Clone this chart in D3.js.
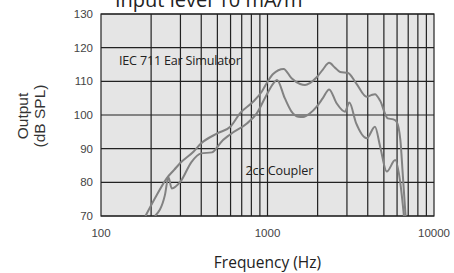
<!DOCTYPE html>
<html>
<head>
<meta charset="utf-8">
<script src="https://cdn.jsdelivr.net/npm/d3@7"></script>
<style>
  body { margin: 0; background: #fff; }
  svg { display: block; }
</style>
</head>
<body>
<svg id="chart"></svg>
<script>
// IEC 711 Ear Simulator curve
const iecFreq = [185, 215, 248, 275, 300, 359, 400, 502, 600, 683, 822, 923, 1000, 1080, 1250, 1395, 1570, 1680, 1800, 1975, 2150, 2345, 2550, 2730, 3050, 3410, 3943, 4200, 4420, 4750, 5270, 5700, 5960, 6280, 6500, 6750];
const iecDb = [70, 76, 81.2, 83.7, 85.8, 89.1, 91.6, 94.6, 96.6, 100.5, 104, 106.9, 109.9, 112.2, 113.7, 110.9, 109.2, 108.9, 109.5, 111.2, 113.5, 115.5, 114, 112.8, 112.5, 109.4, 105.4, 105.9, 106.2, 104.2, 99, 98.7, 98, 92.6, 82, 70];

// 2cc Coupler curve
const ccFreq = [211, 242, 254, 266, 300, 350, 400, 464, 502, 519, 600, 752, 862, 985, 1085, 1140, 1270, 1395, 1530, 1640, 1800, 1975, 2150, 2345, 2600, 2920, 3100, 3410, 3943, 4420, 4750, 5200, 5850, 6280, 6600];
const ccDb = [70, 76.2, 81.5, 78.2, 80.2, 86.1, 88.6, 88.9, 90.6, 91.6, 94.3, 97.5, 100.5, 105.9, 109.4, 110.4, 105, 101, 99.5, 99.4, 100.5, 102.5, 105, 107.6, 103.5, 101, 103.7, 97.5, 93.1, 96.5, 90.6, 83.2, 86.6, 79.7, 70];

const yTicks = [70, 80, 90, 100, 110, 120, 130];
const xTicks = [100, 1000, 10000];
const xGrid = [200, 300, 400, 500, 600, 700, 800, 900, 1000, 2000, 3000, 4000, 5000, 6000, 7000, 8000, 9000];

const width = 454, height = 273;
const margin = { top: 14, right: 20, bottom: 57, left: 101 };
const w = width - margin.left - margin.right;
const h = height - margin.top - margin.bottom;

const svg = d3.select('#chart')
  .attr('width', width)
  .attr('height', height);

const x = d3.scaleLog().domain([100, 10000]).range([0, w]);
const y = d3.scaleLinear().domain([70, 130]).range([h, 0]);

// title, mostly cut off at the top
svg.append('text')
  .attr('x', 115)
  .attr('y', 7)
  .style('font-family', 'Open Sans')
  .style('font-size', '20px')
  .style('fill', '#222')
  .text('Input level 10 mA/m');

const g = svg.append('g')
  .attr('transform', `translate(${margin.left},${margin.top})`);

g.append('defs').append('clipPath')
  .attr('id', 'plot-clip')
  .append('rect')
  .attr('width', w)
  .attr('height', h);

g.append('rect')
  .attr('width', w)
  .attr('height', h)
  .style('fill', '#e5e5e5');

// grid
g.selectAll('.hgrid')
  .data(yTicks)
  .join('line')
  .attr('class', 'hgrid')
  .attr('x1', 0)
  .attr('x2', w)
  .attr('y1', d => y(d))
  .attr('y2', d => y(d))
  .style('stroke', '#222')
  .style('stroke-width', 1.2);

g.selectAll('.vgrid')
  .data(xGrid)
  .join('line')
  .attr('class', 'vgrid')
  .attr('x1', d => x(d))
  .attr('x2', d => x(d))
  .attr('y1', 0)
  .attr('y2', h)
  .style('stroke', '#222')
  .style('stroke-width', 1.2);

g.append('rect')
  .attr('width', w)
  .attr('height', h)
  .style('fill', 'none')
  .style('stroke', '#222')
  .style('stroke-width', 1.2);

// curves
const line = d3.line()
  .x(d => x(d[0]))
  .y(d => y(d[1]))
  .curve(d3.curveMonotoneX);

const series = [
  d3.zip(iecFreq, iecDb),
  d3.zip(ccFreq, ccDb)
];

g.append('g')
  .attr('clip-path', 'url(#plot-clip)')
  .selectAll('path')
  .data(series)
  .join('path')
  .attr('d', line)
  .style('fill', 'none')
  .style('stroke', '#828282')
  .style('stroke-width', 2);

// annotations
g.append('text')
  .attr('x', 119 - margin.left)
  .attr('y', 65 - margin.top)
  .style('font-family', 'Open Sans')
  .style('font-size', '12.6px')
  .style('letter-spacing', '-0.2px')
  .style('fill', '#222')
  .text('IEC 711 Ear Simulator');

g.append('text')
  .attr('x', 245.5 - margin.left)
  .attr('y', 174.5 - margin.top)
  .style('font-family', 'Open Sans')
  .style('font-size', '12.6px')
  .style('letter-spacing', '-0.1px')
  .style('fill', '#222')
  .text('2cc Coupler');

// tick labels
g.selectAll('.ylab')
  .data(yTicks)
  .join('text')
  .attr('class', 'ylab')
  .attr('x', -8)
  .attr('y', d => y(d))
  .attr('dy', '0.35em')
  .attr('text-anchor', 'end')
  .style('font-family', 'Liberation Sans, Arial, sans-serif')
  .style('font-size', '11.5px')
  .style('fill', '#444')
  .text(d => d);

g.selectAll('.xlab')
  .data(xTicks)
  .join('text')
  .attr('class', 'xlab')
  .attr('x', d => x(d))
  .attr('y', h + 17)
  .attr('dy', '0.35em')
  .attr('text-anchor', 'middle')
  .style('font-family', 'Liberation Sans, Arial, sans-serif')
  .style('font-size', '11.5px')
  .style('fill', '#444')
  .text(d => d);

// axis titles
svg.append('text')
  .attr('x', margin.left + x(1000))
  .attr('y', 268)
  .attr('text-anchor', 'middle')
  .style('font-family', 'Open Sans')
  .style('font-size', '15.5px')
  .style('fill', '#222')
  .text('Frequency (Hz)');

const yTitle = svg.append('text')
  .attr('transform', 'translate(0,116) rotate(-90)')
  .attr('text-anchor', 'middle')
  .style('font-family', 'Liberation Sans, Arial, sans-serif')
  .style('font-size', '15.5px')
  .style('fill', '#333');

yTitle.append('tspan').attr('x', 0).attr('y', 28).text('Output');
yTitle.append('tspan').attr('x', 0).attr('y', 45).text('(dB SPL)');
</script>
</body>
</html>
